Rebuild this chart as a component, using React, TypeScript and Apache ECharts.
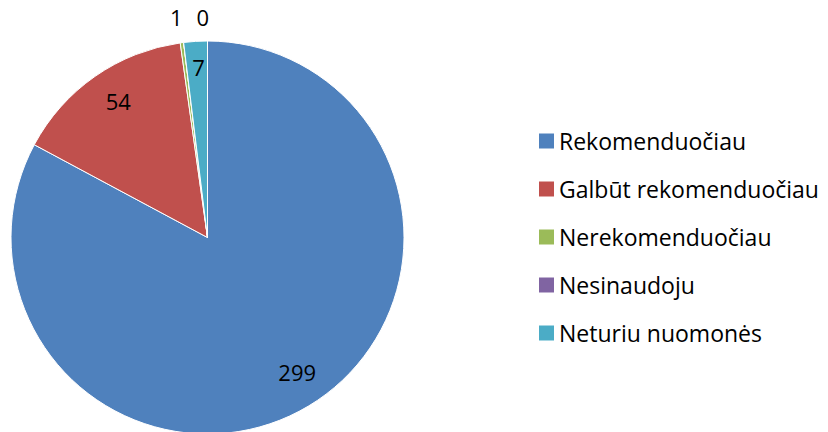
import React, { useEffect, useRef } from "react";
import * as echarts from "echarts";

const categories = [
  "Rekomenduočiau",
  "Galbūt rekomenduočiau",
  "Nerekomenduočiau",
  "Nesinaudoju",
  "Neturiu nuomonės",
];
const values = [299, 54, 1, 0, 7];
const colors = ["#4F81BD", "#C0504D", "#9BBB59", "#8064A2", "#4BACC6"];

// label nudges (layout only) relative to the inside label position
const labelOffsets: number[][] = [
  [6, -5],
  [4, -3],
  [-10, -59],
  [15, -59],
  [1, -8],
];

const FONT = "'Open Sans', 'Liberation Sans', sans-serif";

export default function App() {
  const ref = useRef<HTMLDivElement>(null);
  useEffect(() => {
    if (!ref.current) return;
    const chart = echarts.init(ref.current, null, { renderer: "svg" });
    const center = [207.5, 237.5];
    chart.setOption({
      animation: false,
      backgroundColor: "#ffffff",
      legend: {
        data: categories,
        orient: "vertical",
        left: 539,
        top: 129,
        padding: 0,
        icon: "rect",
        itemWidth: 15,
        itemHeight: 15,
        itemGap: 24,
        itemStyle: { borderWidth: 0 },
        textStyle: {
          fontFamily: FONT,
          fontSize: 23,
          color: "#000",
          lineHeight: 24,
        },
      },
      series: [
        {
          type: "pie",
          center,
          radius: 196.5,
          startAngle: 90,
          clockwise: true,
          avoidLabelOverlap: false,
          label: { show: false },
          labelLine: { show: false },
          emphasis: { disabled: true },
          itemStyle: { borderColor: "#ffffff", borderWidth: 1 },
          data: categories.map((name, i) => ({
            name,
            value: values[i],
            itemStyle: { color: colors[i] },
          })),
        },
        {
          type: "pie",
          center,
          radius: 320,
          startAngle: 90,
          clockwise: true,
          silent: true,
          avoidLabelOverlap: false,
          minShowLabelAngle: -1,
          emphasis: { disabled: true },
          itemStyle: { color: "rgba(0,0,0,0)", borderWidth: 0 },
          labelLine: { show: false },
          label: {
            show: true,
            position: "inside",
            formatter: "{c}",
            fontFamily: FONT,
            fontSize: 22,
            color: "#000",
          },
          data: categories.map((name, i) => ({
            name,
            value: values[i],
            itemStyle: { color: "rgba(0,0,0,0)" },
            label: { offset: labelOffsets[i] },
          })),
        },
      ],
    });
    return () => chart.dispose();
  }, []);
  return (
    <div
      ref={ref}
      style={{ position: "absolute", left: 0, top: 0, width: 828, height: 432 }}
    />
  );
}
